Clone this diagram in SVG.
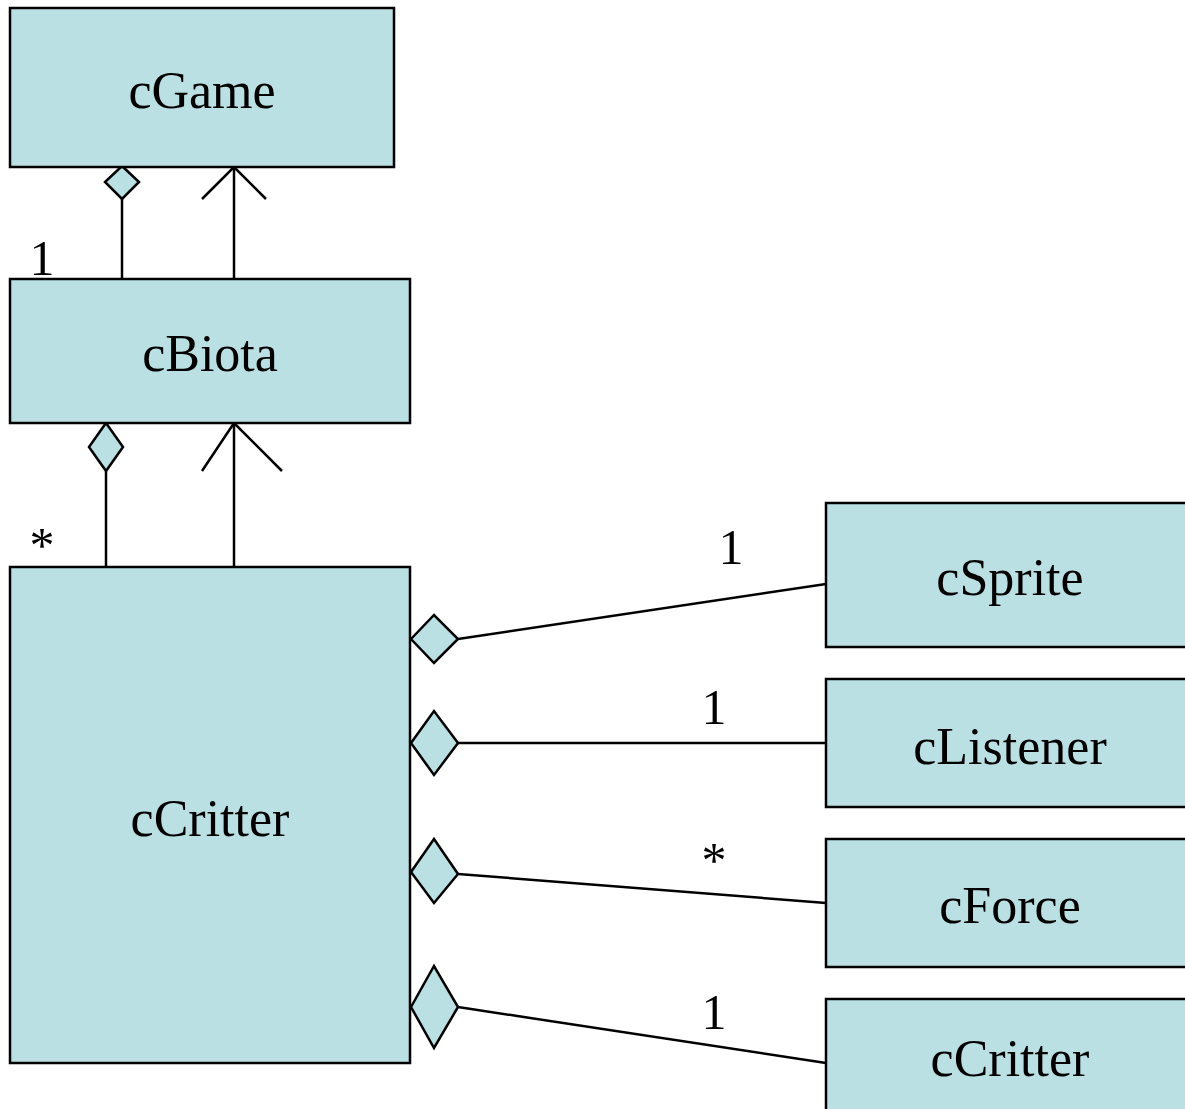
<svg xmlns="http://www.w3.org/2000/svg" width="1185" height="1109" viewBox="0 0 1185 1109">
<style>
.box{fill:#BAE0E3;stroke:#000;stroke-width:2.5}
.lbl{font-family:"Liberation Serif","Times New Roman",serif;font-size:52px;fill:#000;text-anchor:middle}
.mult{font-family:"Liberation Serif","Times New Roman",serif;font-size:50px;fill:#000;text-anchor:middle}
.ln{fill:none;stroke:#000;stroke-width:2.5}
.dia{fill:#BAE0E3;stroke:#000;stroke-width:2.5}
</style>
<rect width="1185" height="1109" fill="#fff"/>
<g id="connectors">
<line class="ln" x1="122" y1="199" x2="122" y2="279"/>
<polygon class="dia" points="122,166 139,182 122,199 105,182"/>
<line class="ln" x1="234" y1="167" x2="234" y2="279"/>
<polyline class="ln" points="202,199 234,167 266,199"/>
<line class="ln" x1="106" y1="471" x2="106" y2="567"/>
<polygon class="dia" points="106,423 123,447 106,471 89,447"/>
<line class="ln" x1="234" y1="423" x2="234" y2="567"/>
<polyline class="ln" points="202,471 234,423 282,471"/>
<line class="ln" x1="458" y1="639" x2="826" y2="584"/>
<polygon class="dia" points="411,639 434,615 458,639 434,663"/>
<line class="ln" x1="458" y1="743" x2="826" y2="743"/>
<polygon class="dia" points="411,743 434,711 458,743 434,775"/>
<line class="ln" x1="458" y1="874" x2="826" y2="903"/>
<polygon class="dia" points="411,872 434,839 458,874 434,903"/>
<line class="ln" x1="458" y1="1007" x2="826" y2="1063"/>
<polygon class="dia" points="411,1007 434,966 458,1007 434,1048"/>
<text class="mult" x="42" y="275">1</text>
<text class="mult" x="42" y="562">*</text>
<text class="mult" x="731" y="564">1</text>
<text class="mult" x="714" y="724">1</text>
<text class="mult" x="714" y="877">*</text>
<text class="mult" x="714" y="1029">1</text>
</g>
<g id="cGame"><rect class="box" x="10" y="8" width="384" height="159"/><text class="lbl" x="202" y="108">cGame</text></g>
<g id="cBiota"><rect class="box" x="10" y="279" width="400" height="144"/><text class="lbl" x="210" y="371">cBiota</text></g>
<g id="cCritter"><rect class="box" x="10" y="567" width="400" height="496"/><text class="lbl" x="210" y="836">cCritter</text></g>
<g id="cSprite"><rect class="box" x="826" y="503" width="370" height="144"/><text class="lbl" x="1010" y="595">cSprite</text></g>
<g id="cListener"><rect class="box" x="826" y="679" width="370" height="128"/><text class="lbl" x="1010" y="764">cListener</text></g>
<g id="cForce"><rect class="box" x="826" y="839" width="370" height="128"/><text class="lbl" x="1010" y="923">cForce</text></g>
<g id="cCritter2"><rect class="box" x="826" y="999" width="370" height="120"/><text class="lbl" x="1010" y="1076">cCritter</text></g>
</svg>
